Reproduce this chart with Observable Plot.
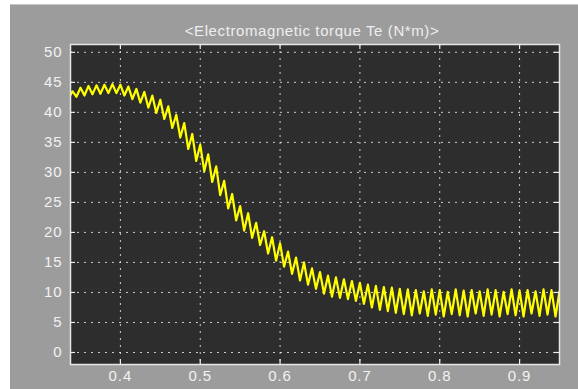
<!DOCTYPE html>
<html><head><meta charset="utf-8">
<script src="https://cdn.jsdelivr.net/npm/d3@7"></script>
<script src="https://cdn.jsdelivr.net/npm/@observablehq/plot@0.6"></script>
<style>
html,body{margin:0;padding:0;background:#fff;width:578px;height:389px;overflow:hidden}
#wrap{position:absolute;left:10px;top:4px;width:568px;height:385px;background:#9c9c9c;border-top:1px solid #c8c8c8;box-sizing:border-box}
#wrap svg{position:absolute;left:0;top:-1px}
#wrap svg text{letter-spacing:0.9px}
#wrap svg g[aria-label="text"] text{letter-spacing:0.6px}
</style></head><body><div id="wrap"></div>
<script>
const title = "<Electromagnetic torque Te (N*m)>";
const time = [0.335,0.340,0.345,0.350,0.355,0.360,0.365,0.370,0.375,0.380,0.385,0.390,0.395,0.400,
0.405,0.410,0.415,0.420,0.425,0.430,0.435,0.440,0.445,0.450,0.455,0.460,0.465,0.470,0.475,0.480,
0.485,0.490,0.495,0.500,0.505,0.510,0.515,0.520,0.525,0.530,0.535,0.540,0.545,0.550,0.555,0.560,
0.565,0.570,0.575,0.580,0.585,0.590,0.595,0.600,0.605,0.610,0.615,0.620,0.625,0.630,0.635,0.640,
0.645,0.650,0.655,0.660,0.665,0.670,0.675,0.680,0.685,0.690,0.695,0.700,0.705,0.710,0.715,0.720,
0.725,0.730,0.735,0.740,0.745,0.750,0.755,0.760,0.765,0.770,0.775,0.780,0.785,0.790,0.795,0.800,
0.805,0.810,0.815,0.820,0.825,0.830,0.835,0.840,0.845,0.850,0.855,0.860,0.865,0.870,0.875,0.880,
0.885,0.890,0.895,0.900,0.905,0.910,0.915,0.920,0.925,0.930,0.935,0.940,0.945,0.950];
const torque = [42.3,43.5,42.6,44.1,42.8,44.4,43.0,44.5,43.1,44.6,43.2,44.7,43.2,44.6,
42.8,44.3,42.2,43.9,41.6,43.4,40.8,42.8,39.9,42.1,38.9,41.0,37.4,39.6,35.8,38.2,
33.9,36.4,31.9,34.6,30.2,33.0,28.4,31.0,26.2,28.6,24.0,26.4,22.0,24.4,20.3,23.2,
19.1,21.6,17.9,20.2,16.5,19.2,15.3,18.2,14.3,16.8,13.1,15.8,12.0,15.0,11.3,14.0,
10.6,13.4,9.8,12.8,9.3,12.5,9.1,12.2,8.9,11.9,8.6,11.6,8.1,11.3,7.5,11.1,
7.1,10.9,6.9,10.8,6.6,10.6,6.4,10.5,6.2,10.4,6.5,10.2,6.1,10.5,6.3,10.4,
6.0,10.1,6.4,10.5,6.2,10.3,6.0,10.4,6.5,10.2,6.1,10.5,6.3,10.4,6.0,10.1,
6.4,10.5,6.2,10.3,6.0,10.4,6.5,10.2,6.1,10.5,6.3,10.4,6.0,10.2];
const xTicks = [0.4,0.5,0.6,0.7,0.8,0.9];
const yTicks = [0,5,10,15,20,25,30,35,40,45,50];
const xDomain = [0.3375, 0.95];
const yDomain = [-2, 51.3];

const data = time.map((t, i) => ({t, v: torque[i]}));
const W = 568, H = 385, mL = 60, mR = 19, mT = 40, mB = 25;
const pw = W - mL - mR, ph = H - mT - mB;
const tickColor = "#eeeeee";
const gridStyle = {stroke: "#e8e8e8", strokeOpacity: 0.85, strokeDasharray: "2,5", strokeWidth: 1};

const chart = Plot.plot({
  width: W, height: H,
  marginLeft: mL, marginRight: mR, marginTop: mT, marginBottom: mB,
  style: {background: "transparent", color: "#f2f2f2", fontFamily: "'Liberation Sans', Arial, sans-serif", fontSize: "15px"},
  x: {domain: xDomain, axis: null},
  y: {domain: yDomain, axis: null},
  marks: [
    Plot.frame({fill: "#2d2d2d"}),
    Plot.gridX(xTicks, gridStyle),
    Plot.gridY(yTicks, gridStyle),
    Plot.line(data, {x: "t", y: "v", stroke: "#ffff00", strokeWidth: 2.2, clip: true}),
    Plot.tickX(xTicks, {x: d => d, insetTop: ph - 5, stroke: tickColor, strokeWidth: 1.2}),
    Plot.tickX(xTicks, {x: d => d, insetBottom: ph - 5, stroke: tickColor, strokeWidth: 1.2}),
    Plot.tickY(yTicks, {y: d => d, insetRight: pw - 5, stroke: tickColor, strokeWidth: 1.2}),
    Plot.tickY(yTicks, {y: d => d, insetLeft: pw - 5, stroke: tickColor, strokeWidth: 1.2}),
    Plot.frame({stroke: "#e6e6e6", strokeWidth: 1.5}),
    Plot.axisX(xTicks, {tickSize: 0, tickPadding: 6, tickFormat: d => d.toFixed(1), label: null, fill: "#f2f2f2"}),
    Plot.axisY(yTicks, {tickSize: 0, tickPadding: 8, label: null, fill: "#f2f2f2"}),
    Plot.text([title], {text: d => d, frameAnchor: "top", dy: -19, dx: -3, fontSize: 15, fill: "#eeeeee"})
  ]
});
document.getElementById("wrap").appendChild(chart);
</script>
</body></html>
